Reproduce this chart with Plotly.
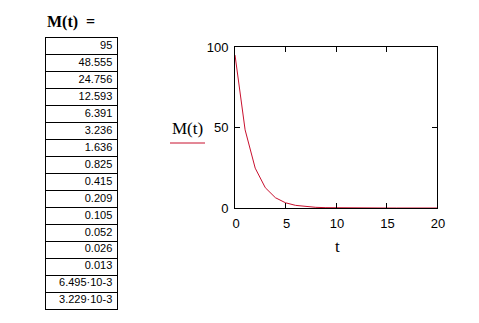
import plotly.graph_objects as go

# ---- data ----
t_values = list(range(21))
M_values = [95, 48.555, 24.756, 12.593, 6.391, 3.236, 1.636, 0.825, 0.415,
            0.209, 0.105, 0.052, 0.026, 0.013, 6.495e-3, 3.229e-3,
            1.6e-3, 8.0e-4, 4.0e-4, 2.0e-4, 1.0e-4]
table_count = 16          # rows shown in the Mathcad result table
x_ticks = [0, 5, 10, 15, 20]
y_ticks = [0, 50, 100]


def mathcad_fmt(v):
    if v < 0.01:
        exp = 0
        m = v
        while m < 1:
            m *= 10
            exp -= 1
        return f"{m:.3f}".rstrip("0").rstrip(".") + "\u00b710" + str(exp)
    return f"{v:.3f}".rstrip("0").rstrip(".")


labels = [mathcad_fmt(v) for v in M_values[:table_count]]
rows = list(range(table_count))

W, H = 479, 323
SANS = "Liberation Sans, Arial, sans-serif"
SERIF = "Liberation Serif, Times New Roman, serif"
RED = "#c8102e"

fig = go.Figure()

# main plot
fig.add_trace(go.Scatter(
    x=t_values, y=M_values, mode="lines",
    line=dict(color=RED, width=1),
    showlegend=False, hoverinfo="skip",
))

# result table: cells drawn as grid of a hidden axis pair, values as text
fig.add_trace(go.Scatter(
    x=[0.93] * table_count, y=[r + 0.5 for r in rows],
    mode="text", text=labels, textposition="middle left",
    textfont=dict(family=SANS, size=11, color="black"),
    xaxis="x2", yaxis="y2", showlegend=False, hoverinfo="skip",
    cliponaxis=False,
))

axis_common = dict(
    showline=True, linecolor="black", linewidth=1, mirror="ticks",
    ticks="inside", ticklen=5, tickcolor="black", tickwidth=1,
    showgrid=False, zeroline=False, automargin=False,
    tickfont=dict(family=SANS, size=13, color="black"),
)

fig.update_layout(
    template="none",
    width=W, height=H,
    margin=dict(l=0, r=0, t=0, b=0, pad=0, autoexpand=False),
    paper_bgcolor="white", plot_bgcolor="white",
    xaxis=dict(domain=[235 / W, 437 / W], range=[0, 20],
               tickvals=x_ticks, ticktext=[str(v) for v in x_ticks],
               ticklabelstandoff=3, ticklabelshift=1, **axis_common),
    yaxis=dict(domain=[(H - 208) / H, (H - 47) / H], range=[0, 100],
               tickvals=y_ticks, ticktext=[str(v) for v in y_ticks],
               ticklabelstandoff=3, **axis_common),
    xaxis2=dict(domain=[45.5 / W, 117.3 / W], range=[0, 1],
                showline=True, mirror=True, linecolor="black", linewidth=1,
                showgrid=False, zeroline=False, showticklabels=False,
                ticks="", anchor="y2", automargin=False),
    yaxis2=dict(domain=[(H - 309) / H, (H - 38) / H],
                range=[table_count, 0],
                tickvals=list(range(table_count + 1)),
                showgrid=True, gridcolor="black", gridwidth=1,
                showline=True, mirror=True, linecolor="black", linewidth=1,
                zeroline=False, showticklabels=False, ticks="",
                anchor="x2", automargin=False),
    showlegend=False,
)

# texts
fig.add_annotation(x=45 / W, y=(H - 22) / H, xref="paper", yref="paper",
                   xanchor="left", yanchor="middle", showarrow=False,
                   text="<b>M(t)</b>&nbsp; <b>=</b>",
                   font=dict(family=SERIF, size=16, color="black"))
fig.add_annotation(x=187 / W, y=(H - 129) / H, xref="paper", yref="paper",
                   xanchor="center", yanchor="middle", showarrow=False,
                   text="M(t)", font=dict(family=SERIF, size=17, color="black"))
fig.add_annotation(x=337 / W, y=(H - 246) / H, xref="paper", yref="paper",
                   xanchor="center", yanchor="middle", showarrow=False,
                   text="t", font=dict(family=SERIF, size=17, color="black"))
fig.add_shape(type="line", xref="paper", yref="paper",
              x0=170 / W, x1=205 / W, y0=(H - 143) / H, y1=(H - 143) / H,
              line=dict(color=RED, width=1))

fig.write_html("out.html")
